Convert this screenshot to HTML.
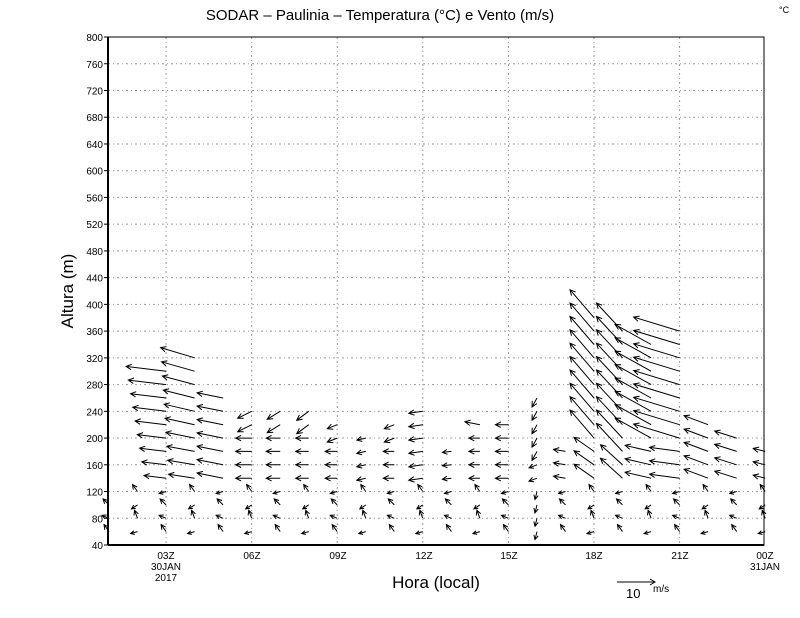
<!DOCTYPE html>
<html><head><meta charset="utf-8"><style>
body{margin:0;background:#fff;}
svg{display:block;font-family:"Liberation Sans",sans-serif;}
</style></head><body>
<svg id="s" width="800" height="618" xmlns="http://www.w3.org/2000/svg">
<rect width="800" height="618" fill="#fff"/>
<text x="380" y="20" font-size="15" text-anchor="middle">SODAR  –  Paulinia  –  Temperatura (°C) e Vento (m/s)</text>
<text x="779" y="13" font-size="9">°C</text>
<g id="grid" stroke="#999" stroke-width="1" stroke-dasharray="2,3,1,3"></g>
<g id="ylab" font-size="10" text-anchor="end"></g>
<g id="xlab" font-size="10" text-anchor="middle">
<text x="166" y="559">03Z</text><text x="166" y="570">30JAN</text><text x="166" y="581">2017</text>
<text x="252" y="559">06Z</text><text x="338" y="559">09Z</text><text x="424" y="559">12Z</text>
<text x="509" y="559">15Z</text><text x="594" y="559">18Z</text><text x="680" y="559">21Z</text>
<text x="765" y="559">00Z</text><text x="765" y="570">31JAN</text>
</g>
<text x="436" y="588" font-size="17" text-anchor="middle">Hora (local)</text>
<text x="73" y="291" font-size="17" text-anchor="middle" transform="rotate(-90 73 291)">Altura (m)</text>
<g stroke="#000" fill="none"><path d="M617 582H655M650 579L655 582L650 585"/></g>
<text x="626" y="598" font-size="13">10</text><text x="653" y="592" font-size="10">m/s</text>
<g id="arr" stroke="#000" stroke-width="1" fill="none"></g>
<rect x="108" y="37" width="656" height="508" fill="none" stroke="#000" stroke-width="1"/>
<line x1="108" y1="37" x2="108" y2="545" stroke="#000" stroke-width="2"/>
<line x1="108" y1="545" x2="764" y2="545" stroke="#000" stroke-width="2"/>
</svg>
<script>
var NS="http://www.w3.org/2000/svg";
function Y(l){return 545-(l-40)*0.6684;}
function X(h){return 109+(h-1)*28.53;}
var g=document.getElementById('grid'),yl=document.getElementById('ylab'),s='';
for(var l=80;l<=800;l+=40){s+='<line x1="108" x2="764" y1="'+Y(l)+'" y2="'+Y(l)+'"/>';}
[3,6,9,12,15,18,21].forEach(function(h){s+='<line y1="37" y2="545" x1="'+X(h)+'" x2="'+X(h)+'"/>';});
g.innerHTML=s;s='';
for(var l=40;l<=800;l+=40){s+='<text x="103" y="'+(Y(l)+4)+'">'+l+'</text><line x1="104" x2="108" y1="'+Y(l)+'" y2="'+Y(l)+'" stroke="#000"/>';}
yl.innerHTML=s;
// column spec: [top, func(level)->[dx,dy]]
function sm(h,l){var a=[[-5,-7],[-7,-3],[-6,-6],[-7,2],[-3,-8],[-6,4]];var v=a[(h*3+l/20)%6];return v;}
var cols={};
function col(h,top,f){cols[h]={top:top,f:f};}
col(1,100,null);col(2,120,null);
col(3,300,function(l){var L=22+(l-140)/160*18;return [-L,-L*0.12];});
col(4,320,function(l){var L=26+(l-140)/180*8;return [-L,-L*(0.15+(l-140)/180*0.15)];});
col(5,260,function(l){var L=26;return [-L,-L*0.2];});
col(6,240,function(l){return l>=220?[-14,7]:[-16,0];});
col(7,240,function(l){return l>=220?[-13,8]:[-14,0];});
col(8,240,function(l){return l>=220?[-12,9]:[-13,0];});
col(9,220,function(l){return l>=200?[-10,4]:[-12,0];});
col(10,200,function(l){return [-9,2];});
col(11,220,function(l){return l>=200?[-10,4]:[-11,0];});
col(12,240,function(l){return [-14,2];});
col(13,180,function(l){return [-9,1];});
col(14,220,function(l){return l>=220?[-15,-3]:[-11,0];});
col(15,220,function(l){return [-13,0];});
col(16,260,function(l){return l>=180?[-5,9]:[-8,3];});
col(17,180,function(l){return [-12,-2];});
col(18,380,function(l){return l>=200?[-24,-28]:[-20,-14];});
col(19,360,function(l){return l>=180?[-26,-28]:[-22,-20];});
col(20,340,function(l){return l>=200?[-36,-20]:[-26,-6];});
col(21,360,function(l){return l>=200?[-46,-14]:[-30,-4];});
col(22,220,function(l){return [-24,-9];});
col(23,200,function(l){return [-22,-7];});
col(24,180,function(l){return [-12,-3];});
var out='';
function arrow(x,y,dx,dy){var x2=x+dx,y2=y+dy,L=Math.sqrt(dx*dx+dy*dy);if(L<1)return;var ux=dx/L,uy=dy/L,hs=Math.min(6,L*0.6);
var ax=x2-hs*(ux*0.9-uy*0.45),ay=y2-hs*(uy*0.9+ux*0.45),bx=x2-hs*(ux*0.9+uy*0.45),by=y2-hs*(uy*0.9-ux*0.45);
out+='<path d="M'+x.toFixed(1)+' '+y.toFixed(1)+'L'+x2.toFixed(1)+' '+y2.toFixed(1)+'M'+ax.toFixed(1)+' '+ay.toFixed(1)+'L'+x2.toFixed(1)+' '+y2.toFixed(1)+'L'+bx.toFixed(1)+' '+by.toFixed(1)+'"/>';}
for(var h=1;h<=24;h++){var c=cols[h];for(var l=60;l<=c.top;l+=20){var v;
if(l<=120||!c.f){v=sm(h,l);if(h==16)v=[-2,8];}else if(h>=16&&l<140){v=sm(h,l);}else v=c.f(l);
arrow(X(h),Y(l),v[0],v[1]);}}
document.getElementById('arr').innerHTML=out;
</script>
</body></html>
